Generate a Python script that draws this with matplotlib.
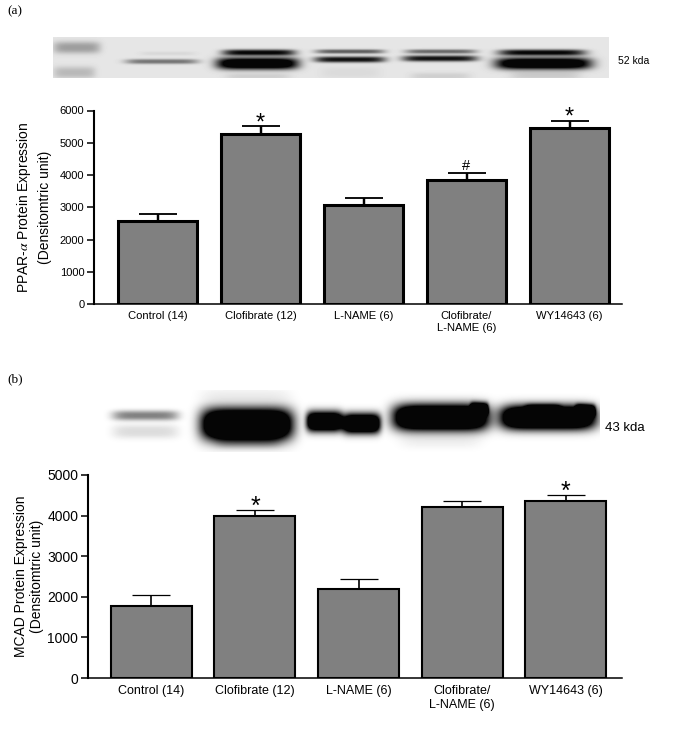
import numpy as np
import matplotlib
matplotlib.use('Agg')
import matplotlib.pyplot as plt

plt.rcParams['font.family'] = ['Liberation Sans', 'DejaVu Sans']
plt.rcParams['mathtext.fontset'] = 'stix'

W, H = 691, 754

labels_a = ['Control (14)', 'Clofibrate (12)', 'L-NAME (6)', 'Clofibrate/\nL-NAME (6)', 'WY14643 (6)']
means_a = [2570, 5260, 3060, 3830, 5450]
errs_a = [210, 250, 220, 220, 230]
stars_a = ['', '*', '', '#', '*']

labels_b = ['Control (14)', 'Clofibrate (12)', 'L-NAME (6)', 'Clofibrate/\nL-NAME (6)', 'WY14643 (6)']
means_b = [1780, 3990, 2190, 4210, 4350]
errs_b = [260, 140, 250, 160, 150]
stars_b = ['', '*', '', '', '*']

# blot bands: x0, x1, y, half height, darkness
bands_a = [(53, 100, 47, 6, 0.32), (53, 95, 72, 6, 0.2),
           (125, 198, 61, 2.5, 0.5), (140, 195, 53, 2, 0.06),
           (222, 295, 52, 3, 1.0), (216, 298, 63, 6, 1.4),
           (315, 384, 51, 2.2, 0.6), (314, 385, 59, 3, 0.95),
           (405, 476, 51, 2.2, 0.55), (402, 477, 58, 3, 0.95),
           (498, 585, 52, 3, 1.0), (495, 591, 63, 6, 1.4),
           (225, 290, 76, 3, 0.1), (320, 380, 72, 6, 0.05), (410, 470, 76, 4, 0.1), (510, 580, 75, 4, 0.12)]
bands_b = [(112, 178, 415, 5, 0.5), (112, 178, 431, 7, 0.14),
           (201, 292, 424, 16, 2.0), (215, 280, 442, 6, 0.2),
           (306, 342, 421, 10, 1.8), (342, 380, 423, 10, 1.8),
           (393, 488, 417, 13, 2.0), (470, 488, 408, 6, 1.2),
           (500, 595, 417, 12, 2.0), (525, 560, 412, 7, 1.2), (575, 595, 410, 6, 1.2),
           (200, 290, 394, 6, 0.06), (400, 480, 440, 8, 0.06)]


def blot(ax, x0, x1, y0, y1, bands, bg):
    xs, ys = np.meshgrid(np.arange(x0, x1), np.arange(y0, y1))
    dark = np.zeros(xs.shape)
    for a, b, yc, hh, d in bands:
        c, w = (a + b) / 2, (b - a) / 2
        dark += d * np.exp(-np.abs((xs - c) / w) ** 6) * np.exp(-np.abs((ys - yc) / hh) ** 2.5)
    img = bg * (1 - np.clip(dark, 0, 1)) + 0.02
    ax.imshow(img, cmap='gray', vmin=0, vmax=1, extent=(x0, x1, y1, y0), aspect='auto', interpolation='bilinear')


def panel(left, right, top, bottom, ymax, step, first, spacing, barw, means, errs, labels, stars, ylab, fs_tick, fs_cat, fs_lab, lw, labx, star_fs, lab_ls):
    ax = fig.add_axes([left / W, 1 - bottom / H, (right - left) / W, (bottom - top) / H])
    x = np.arange(5)
    ax.bar(x, means, width=barw / spacing, color='#808080', edgecolor='black', linewidth=lw, zorder=2)
    ax.errorbar(x, means, yerr=[np.zeros(5), errs], fmt='none', ecolor='black', elinewidth=lw * 0.8,
                capsize=13.5, capthick=lw * 0.6, zorder=1)
    ax.set_xlim((left - first) / spacing, (right - first) / spacing)
    ax.set_ylim(0, ymax)
    ax.set_yticks(np.arange(0, ymax + 1, step))
    ax.set_xticks(x)
    ax.set_xticklabels(labels, fontsize=fs_cat, linespacing=1.25)
    ax.tick_params(axis='x', length=0, pad=5)
    ax.tick_params(axis='y', length=5, width=1.1, labelsize=fs_tick, pad=2)
    ax.patch.set_alpha(0)
    for s in ['top', 'right']:
        ax.spines[s].set_visible(False)
    ax.spines['left'].set_linewidth(1.5)
    ax.spines['bottom'].set_linewidth(1.1)
    for i, s in enumerate(stars):
        if s:
            dy = -0.04 if s == '*' else 0.0
            ax.text(i, means[i] + errs[i] + dy * ymax, s, ha='center', va='bottom', fontsize=star_fs if s == '*' else 10.5)
    ax.text(labx, 0.5, ylab, transform=ax.transAxes, rotation=90, ha='center', va='center', fontsize=fs_lab, linespacing=lab_ls)
    return ax


fig = plt.figure(figsize=(W / 100, H / 100), dpi=100)
bg = fig.add_axes([0, 0, 1, 1])
bg.set_xlim(0, W)
bg.set_ylim(H, 0)
bg.axis('off')

blot(bg, 53, 609, 37, 78, bands_a, 0.88)
blot(bg, 38, 600, 390, 452, bands_b, 0.98)
bg.set_xlim(0, W)
bg.set_ylim(H, 0)

bg.text(7, 11, '(a)', family='Liberation Serif', fontsize=9.5, ha='left', va='center')
bg.text(7, 379, '(b)', family='Liberation Serif', fontsize=9.5, ha='left', va='center')
bg.text(618, 61, '52 kda', fontsize=7.5, ha='left', va='center')
bg.text(605, 428, '43 kda', fontsize=9.5, ha='left', va='center')

panel(94, 622, 110.5, 304, 6000, 1000, 157.5, 103, 79, means_a, errs_a, labels_a, stars_a,
      'PPAR-$\\alpha$ Protein Expression\n(Densitomtric unit)', 8, 8.1, 10, 2.2, -0.115, 17, 1.45)
panel(88, 622, 475, 678, 5000, 1000, 151.5, 103.5, 81, means_b, errs_b, labels_b, stars_b,
      'MCAD Protein Expression\n(Densitomtric unit)', 10, 9, 10, 1.5, -0.111, 18, 1.15)

fig.savefig('out.png', dpi=100)
